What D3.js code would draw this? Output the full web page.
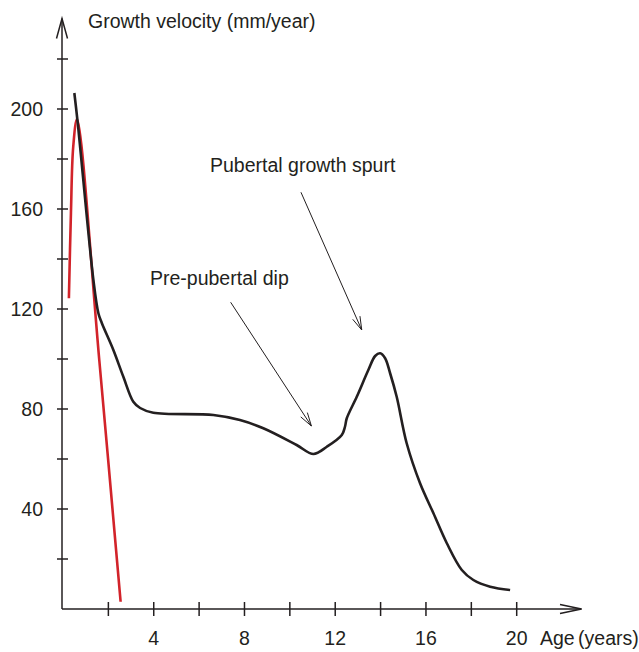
<!DOCTYPE html>
<html>
<head>
<meta charset="utf-8">
<script src="https://cdn.jsdelivr.net/npm/d3@7"></script>
<style>
  body { margin: 0; background: #fff; }
  svg { display: block; font-family: "Liberation Sans", Arial, sans-serif; }
</style>
</head>
<body>
<svg id="chart" width="639" height="652"></svg>
<script>
// velocity curve (age in years, mm/year)
var ages = [0.50, 0.65, 1.34, 1.56, 1.71, 2.22, 2.66, 3.10, 3.40, 3.98, 6.63, 7.80, 8.83, 10.30, 11.04,
            11.63, 12.29, 12.43, 12.51, 12.95, 13.46, 13.76, 13.98, 14.20, 14.42, 14.71, 15.15,
            15.74, 16.33, 16.92, 17.58, 18.09, 18.83, 19.71];
var velocity = [206.4, 194.4, 131.6, 118.3, 114.4, 103.6, 92.9, 82.9, 80.4, 78.5, 77.6, 75.6, 72.3, 65.6, 62.0,
                64.9, 69.6, 72.9, 76.3, 84.9, 95.6, 101.2, 102.3, 100.3, 94.3, 84.9, 66.3,
                50.3, 38.3, 26.3, 15.6, 11.6, 8.9, 7.6];

// infant component (red)
var infantAges = [0.26, 0.35, 0.45, 0.62, 1.60, 2.54];
var infantVelocity = [124.3, 158.4, 184.8, 196.0, 99.5, 2.9];

var yTicks = [20, 40, 60, 80, 100, 120, 140, 160, 180, 200, 220];
var yLabels = [40, 80, 120, 160, 200];
var xTicks = [2, 4, 6, 8, 10, 12, 14, 16, 18, 20];
var xLabels = [4, 8, 12, 16, 20];

var annotations = [
  {text: 'Pre-pubertal dip', tx: 150, ty: 285, from: [7.39, 122.7], to: [10.95, 73.2]},
  {text: 'Pubertal growth spurt', tx: 210, ty: 172, from: [10.49, 166.7], to: [13.17, 111.6]}
];

var INK = '#231f20';
var RED = '#d2232a';

var svg = d3.select('#chart');

var x = d3.scaleLinear().domain([0, 20]).range([63, 516.7]);
var y = d3.scaleLinear().domain([0, 200]).range([609, 109]);

var originX = 62, originY = 609;

// axes
var axes = svg.append('g').attr('stroke', INK).attr('stroke-width', 1.5).attr('fill', 'none');
axes.append('line').attr('x1', originX).attr('x2', originX).attr('y1', originY).attr('y2', 18.5);
axes.append('line').attr('x1', originX).attr('x2', 581.5).attr('y1', originY).attr('y2', originY);
axes.append('path').attr('d', 'M56.5,38.5L' + originX + ',18.5L67.5,38.5');
axes.append('path').attr('d', 'M560,604.5L581.5,' + originY + 'L560,613.5');

axes.selectAll('.ytick').data(yTicks).enter()
  .append('line')
  .attr('class', 'ytick')
  .attr('x1', originX - 5).attr('x2', originX + 6)
  .attr('y1', function(d){ return y(d); })
  .attr('y2', function(d){ return y(d); });

axes.selectAll('.xtick').data(xTicks).enter()
  .append('line')
  .attr('class', 'xtick')
  .attr('y1', originY - 7).attr('y2', originY + 7)
  .attr('x1', function(d){ return x(d); })
  .attr('x2', function(d){ return x(d); });

var labels = svg.append('g').attr('fill', INK).style('font-size', '19.5px');

labels.selectAll('.ylabel').data(yLabels).enter()
  .append('text')
  .attr('x', 43)
  .attr('y', function(d){ return y(d); })
  .attr('dy', '0.36em')
  .attr('text-anchor', 'end')
  .text(function(d){ return d; });

labels.selectAll('.xlabel').data(xLabels).enter()
  .append('text')
  .attr('x', function(d){ return x(d); })
  .attr('y', 645)
  .attr('text-anchor', 'middle')
  .text(function(d){ return d; });

labels.append('text').attr('x', 88).attr('y', 28).text('Growth velocity (mm/year)');
labels.append('text').attr('x', 540).attr('y', 645).attr('word-spacing', '-2px').text('Age (years)');

// curves
var line = d3.line()
  .curve(d3.curveCatmullRom.alpha(0.5))
  .x(function(d){ return x(d[0]); })
  .y(function(d){ return y(d[1]); });

svg.append('path')
  .datum(d3.zip(infantAges, infantVelocity))
  .attr('d', line)
  .attr('fill', 'none')
  .attr('stroke', RED)
  .attr('stroke-width', 2.6);

svg.append('path')
  .datum(d3.zip(ages, velocity))
  .attr('d', line)
  .attr('fill', 'none')
  .attr('stroke', INK)
  .attr('stroke-width', 2.6)
  .attr('stroke-linejoin', 'round');

// annotations with open arrowheads
var arrowHead = function(x1, y1, x2, y2){
  var a = Math.atan2(y2 - y1, x2 - x1);
  var len = 14, spread = Math.PI / 11;
  var p1 = [x2 - len * Math.cos(a - spread), y2 - len * Math.sin(a - spread)];
  var p2 = [x2 - len * Math.cos(a + spread), y2 - len * Math.sin(a + spread)];
  return 'M' + p1 + 'L' + x2 + ',' + y2 + 'L' + p2;
};

var notes = svg.selectAll('.note').data(annotations).enter().append('g').attr('class', 'note');
notes.append('text')
  .attr('x', function(d){ return d.tx; })
  .attr('y', function(d){ return d.ty; })
  .attr('fill', INK)
  .style('font-size', '19.5px')
  .text(function(d){ return d.text; });
notes.append('line')
  .attr('x1', function(d){ return x(d.from[0]); })
  .attr('y1', function(d){ return y(d.from[1]); })
  .attr('x2', function(d){ return x(d.to[0]); })
  .attr('y2', function(d){ return y(d.to[1]); })
  .attr('stroke', INK).attr('stroke-width', 1);
notes.append('path')
  .attr('d', function(d){ return arrowHead(x(d.from[0]), y(d.from[1]), x(d.to[0]), y(d.to[1])); })
  .attr('fill', 'none').attr('stroke', INK).attr('stroke-width', 1);
</script>
</body>
</html>
